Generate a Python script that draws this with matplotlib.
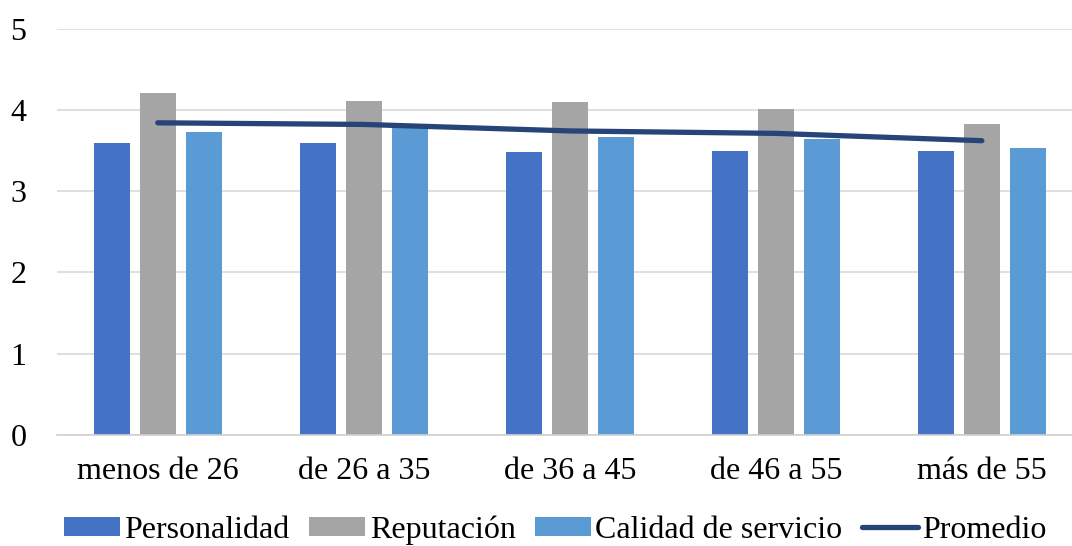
import matplotlib.pyplot as plt
import numpy as np

grupos = ['menos de 26', 'de 26 a 35', 'de 36 a 45', 'de 46 a 55', 'más de 55']
personalidad = [3.59, 3.59, 3.48, 3.49, 3.49]
reputacion = [4.21, 4.11, 4.09, 4.01, 3.83]
calidad = [3.73, 3.77, 3.66, 3.64, 3.53]
promedio = [3.84, 3.82, 3.74, 3.71, 3.62]

plt.rcParams['font.family'] = ['Liberation Serif', 'DejaVu Serif']

fig = plt.figure(figsize=(10.72, 5.46), dpi=100)
ax = fig.add_axes([0.053, 0.2033, 0.959, 0.7445])

x = np.arange(len(grupos))
ancho = 0.175
sep = 0.223
b1 = ax.bar(x - sep, personalidad, ancho, color='#4472C4', label='Personalidad', zorder=2)
b2 = ax.bar(x, reputacion, ancho, color='#A5A5A5', label='Reputación', zorder=2)
b3 = ax.bar(x + sep, calidad, ancho, color='#5B9BD5', label='Calidad de servicio', zorder=2)
l1, = ax.plot(x, promedio, color='#264478', linewidth=3.8, solid_capstyle='round',
              label='Promedio', zorder=3)

ax.set_xlim(-0.49, 4.5)
ax.set_ylim(0, 5)
ax.set_yticks(range(6))
ax.set_xticks(x)
ax.set_xticklabels(grupos)
ax.tick_params(axis='both', length=0, labelsize=23, colors='#000000')
ax.tick_params(axis='x', pad=16)
ax.tick_params(axis='y', pad=22)
ax.grid(axis='y', color='#D9D9D9', linewidth=1.2, zorder=0)
for lado in ['top', 'right', 'left']:
    ax.spines[lado].set_visible(False)
ax.spines['bottom'].set_color('#D0D0D0')
ax.spines['bottom'].set_linewidth(1.2)

fig.legend(handles=[b1, b2, b3, l1], loc='lower center', bbox_to_anchor=(0.518, -0.05),
           ncol=4, frameon=False, fontsize=23, handlelength=1.75, handleheight=0.55,
           handletextpad=0.15, columnspacing=0.6)

fig.savefig('out.png', dpi=100)
